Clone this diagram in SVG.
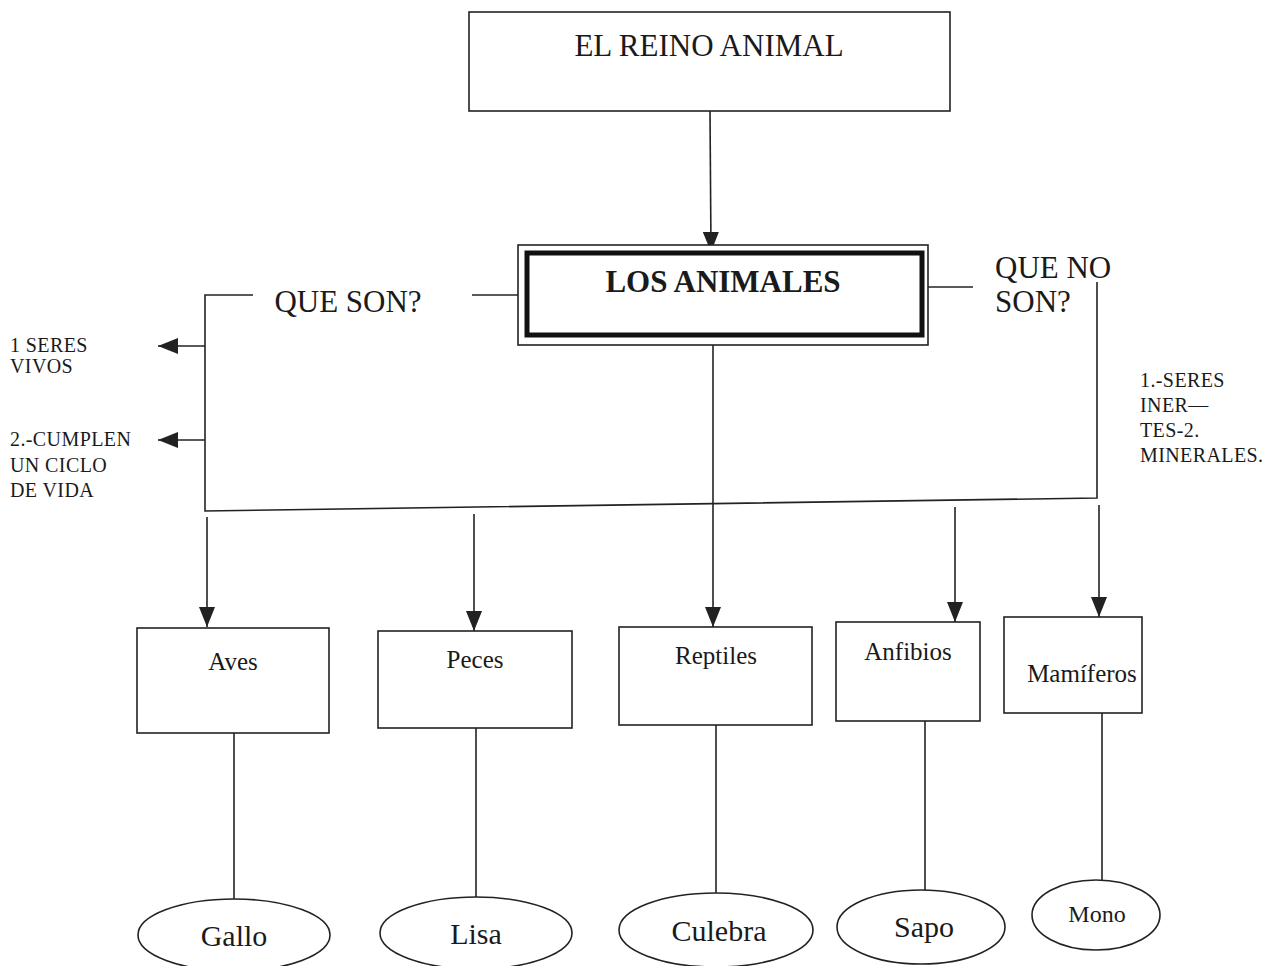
<svg xmlns="http://www.w3.org/2000/svg" width="1277" height="966" viewBox="0 0 1277 966">
<style>
text{font-family:"Liberation Serif","Times New Roman",serif;fill:#1a1a1a}
.big{font-size:31px}
.bold{font-size:31px;font-weight:bold}
.small{font-size:20px;letter-spacing:0.4px}
.lab{font-size:25px}
.ell{font-size:30px}
.box{fill:#fff;stroke:#222;stroke-width:1.6}
.ln{fill:none;stroke:#222;stroke-width:1.6}
</style>
<defs>
<marker id="ah" viewBox="0 0 20 16" refX="20" refY="8" markerWidth="20" markerHeight="16" markerUnits="userSpaceOnUse" orient="auto">
<path d="M0,0 L20,8 L0,16 z" fill="#222"/>
</marker>
</defs>
<rect width="1277" height="966" fill="#fff"/>
<g id="connectors">
<line class="ln" x1="710" y1="111" x2="711" y2="252" marker-end="url(#ah)"/>
<line class="ln" x1="472" y1="295" x2="518" y2="295"/>
<line class="ln" x1="928" y1="287" x2="973" y2="287"/>
<polyline class="ln" points="253,295 205,295 205,511 1097,498 1097,282"/>
<line class="ln" x1="205" y1="346" x2="158" y2="346" marker-end="url(#ah)"/>
<line class="ln" x1="205" y1="440" x2="158" y2="440" marker-end="url(#ah)"/>
<line class="ln" x1="207" y1="517" x2="207" y2="627" marker-end="url(#ah)"/>
<line class="ln" x1="474" y1="514" x2="474" y2="631" marker-end="url(#ah)"/>
<line class="ln" x1="713" y1="345" x2="713" y2="627" marker-end="url(#ah)"/>
<line class="ln" x1="955" y1="507" x2="955" y2="622" marker-end="url(#ah)"/>
<line class="ln" x1="1099" y1="505" x2="1099" y2="617" marker-end="url(#ah)"/>
<line class="ln" x1="234" y1="733" x2="234" y2="899"/>
<line class="ln" x1="476" y1="728" x2="476" y2="897"/>
<line class="ln" x1="716" y1="725" x2="716" y2="893"/>
<line class="ln" x1="925" y1="721" x2="925" y2="890"/>
<line class="ln" x1="1102" y1="713" x2="1102" y2="880"/>
</g>
<g id="reino">
<rect class="box" x="469" y="12" width="481" height="99"/>
<text class="big" x="709" y="56" text-anchor="middle">EL REINO ANIMAL</text>
</g>
<g id="animales">
<rect class="box" x="518" y="245" width="410" height="100"/>
<rect x="527" y="253" width="395" height="82" fill="none" stroke="#111" stroke-width="5"/>
<text class="bold" x="723" y="292" text-anchor="middle">LOS ANIMALES</text>
</g>
<g id="que-son">
<text class="big" x="348" y="312" text-anchor="middle">QUE SON?</text>
</g>
<g id="que-no-son">
<text class="big" x="995" y="278">QUE NO</text>
<text class="big" x="995" y="312">SON?</text>
</g>
<g id="seres-vivos">
<text class="small" x="10" y="352">1 SERES</text>
<text class="small" x="10" y="373">VIVOS</text>
</g>
<g id="ciclo">
<text class="small" x="10" y="446">2.-CUMPLEN</text>
<text class="small" x="10" y="472">UN CICLO</text>
<text class="small" x="10" y="497">DE VIDA</text>
</g>
<g id="inertes">
<text class="small" x="1140" y="387">1.-SERES</text>
<text class="small" x="1140" y="412">INER—</text>
<text class="small" x="1140" y="437">TES-2.</text>
<text class="small" x="1140" y="462">MINERALES.</text>
</g>
<g id="aves">
<rect class="box" x="137" y="628" width="192" height="105"/>
<text class="lab" x="233" y="670" text-anchor="middle">Aves</text>
</g>
<g id="peces">
<rect class="box" x="378" y="631" width="194" height="97"/>
<text class="lab" x="475" y="668" text-anchor="middle">Peces</text>
</g>
<g id="reptiles">
<rect class="box" x="619" y="627" width="193" height="98"/>
<text class="lab" x="716" y="664" text-anchor="middle">Reptiles</text>
</g>
<g id="anfibios">
<rect class="box" x="836" y="622" width="144" height="99"/>
<text class="lab" x="908" y="660" text-anchor="middle">Anfibios</text>
</g>
<g id="mamiferos">
<rect class="box" x="1004" y="617" width="138" height="96"/>
<text class="lab" x="1082" y="682" text-anchor="middle">Mamíferos</text>
</g>
<g id="gallo">
<ellipse class="box" cx="234" cy="935" rx="96" ry="36"/>
<text class="ell" x="234" y="946" text-anchor="middle">Gallo</text>
</g>
<g id="lisa">
<ellipse class="box" cx="476" cy="933" rx="96" ry="36"/>
<text class="ell" x="476" y="944" text-anchor="middle">Lisa</text>
</g>
<g id="culebra">
<ellipse class="box" cx="716" cy="930" rx="97" ry="37"/>
<text class="ell" x="719" y="941" text-anchor="middle">Culebra</text>
</g>
<g id="sapo">
<ellipse class="box" cx="921" cy="927" rx="84" ry="37"/>
<text class="ell" x="924" y="937" text-anchor="middle">Sapo</text>
</g>
<g id="mono">
<ellipse class="box" cx="1096" cy="915" rx="64" ry="35"/>
<text x="1097" y="922" text-anchor="middle" style="font-size:24px">Mono</text>
</g>
</svg>
